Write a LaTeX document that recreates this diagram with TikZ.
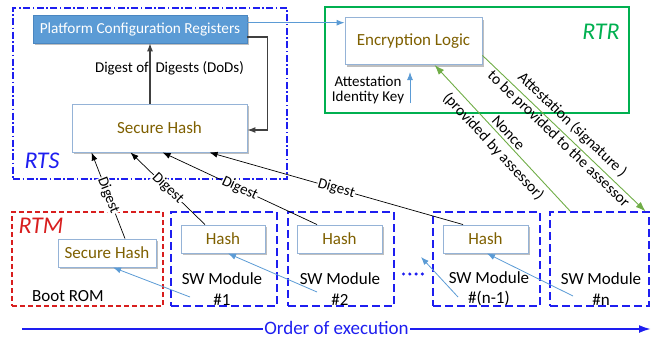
\documentclass[tikz,border=0pt]{standalone}
\usepackage{fontspec}
\setmainfont{Carlito}
\usetikzlibrary{arrows.meta,shadows,positioning}
\definecolor{pcrblue}{HTML}{5B9BD5}
\definecolor{pcredge}{HTML}{4A86C0}
\definecolor{hedge}{HTML}{95B3D7}
\definecolor{brownt}{HTML}{7F6000}
\definecolor{rtsblue}{HTML}{1E1EF0}
\definecolor{rtrgreen}{HTML}{00B050}
\definecolor{arrgreen}{HTML}{70AD47}
\definecolor{rtmred}{HTML}{D81E1E}
\definecolor{thinblue}{HTML}{5B9BD5}
\tikzset{
  hbox/.style={draw=hedge, line width=0.9pt, fill=white, text=brownt, inner sep=0pt,
    drop shadow={shadow xshift=2pt, shadow yshift=-2pt, opacity=0.25, fill=black}},
  pcrbox/.style={draw=pcredge, line width=0.6pt, fill=pcrblue, text=white, inner sep=0pt,
    font=\fontsize{15.3}{18}\selectfont,
    drop shadow={shadow xshift=2pt, shadow yshift=-2pt, opacity=0.25, fill=black}},
  modbox/.style={draw=rtsblue, line width=1.2pt, dash pattern=on 8pt off 4pt, inner sep=0pt},
  rtmbox/.style={draw=rtmred, line width=1.2pt, dash pattern=on 5pt off 3pt, inner sep=0pt},
  rtsbox/.style={draw=rtsblue, line width=1.2pt, dash pattern=on 7pt off 2.5pt on 1.5pt off 2.5pt, inner sep=0pt},
  rtrbox/.style={draw=rtrgreen, line width=1.3pt, inner sep=0pt},
  bigital/.style={font=\fontsize{24}{28}\selectfont\itshape, inner sep=0pt},
  modtext/.style={font=\fontsize{17}{20.5}\selectfont, align=center, inner sep=0pt},
  dig/.style={black, line width=0.7pt, -{Latex[length=8pt,width=6pt]}},
  diglab/.style={font=\fontsize{15}{18}\selectfont, fill=white, inner sep=0.5pt, sloped, midway},
  thin arrow/.style={thinblue, line width=0.8pt, -{Latex[length=8pt,width=6pt]}},
  grn/.style={arrgreen, line width=0.9pt},
  grnlab/.style={font=\fontsize{15.5}{20}\selectfont, text=black, align=center, sloped, midway, inner sep=0pt},
  gray arrow/.style={black!75, line width=1.3pt, -{Latex[length=8pt,width=6pt]}},
}
\begin{document}
\begin{tikzpicture}[x=1pt,y=-1pt]
\useasboundingbox (0,0) rectangle (654,338);
% containers
\node[rtsbox, minimum width=274pt, minimum height=171pt] (rts) at (150,93.5) {};
\node[rtrbox, minimum width=304pt, minimum height=106pt] (rtr) at (477,60) {};
\node[rtmbox, minimum width=151pt, minimum height=94pt] (rtm) at (87.5,259) {};
\node[modbox, minimum width=106pt, minimum height=94pt] (m1) at (224,259) {};
\node[modbox, minimum width=106pt, minimum height=94pt] (m2) at (341,259) {};
\node[modbox, minimum width=107pt, minimum height=94pt] (mn1) at (486.5,259) {};
\node[modbox, minimum width=99pt, minimum height=94pt] (mn) at (599.5,259) {};
% container labels
\node[bigital, text=rtsblue] (rtsl) at (42,161) {RTS};
\node[bigital, text=rtrgreen] (rtrl) at (601,32) {RTR};
\node[bigital, text=rtmred] (rtml) at (41,226) {RTM};
% inner boxes
\node[pcrbox, minimum width=214pt, minimum height=28pt] (pcr) at (140,29) {Platform Configuration Registers};
\node[hbox, minimum width=175pt, minimum height=48pt, font=\fontsize{17}{20}\selectfont] (sh) at (159.5,128) {Secure Hash};
\node[hbox, minimum width=137pt, minimum height=47pt, font=\fontsize{17}{20}\selectfont] (enc) at (413.5,41) {Encryption Logic};
\node[hbox, minimum width=98pt, minimum height=28pt, font=\fontsize{17}{20}\selectfont] (rh) at (107,253) {Secure Hash};
\node[hbox, minimum width=84pt, minimum height=28pt, font=\fontsize{17}{20}\selectfont] (h1) at (223,239) {Hash};
\node[hbox, minimum width=85pt, minimum height=28pt, font=\fontsize{17}{20}\selectfont] (h2) at (339.5,239) {Hash};
\node[hbox, minimum width=85pt, minimum height=28pt, font=\fontsize{17}{20}\selectfont] (hn1) at (485.5,239) {Hash};
% texts
\node[modtext] (t1) at (222,289) {SW Module\\\#1};
\node[modtext] (t2) at (340,289) {SW Module\\\#2};
\node[modtext] (tn1) at (489,289) {SW Module\\\#(n-1)};
\node[modtext] (tn) at (601,289) {SW Module\\\#n};
\node[modtext] (boot) at (68,296) {Boot ROM};
\node[font=\fontsize{15}{15.5}\selectfont, align=center, inner sep=0pt] (aik) at (368,90) {Attestation\\Identity Key};
% dots
\foreach \xx in {403.5,409.8,416.1,422.4} \fill[rtsblue] (\xx,274) circle (1.7);
% DoD arrow
\coordinate (dodS) at ([xshift=-9.5pt]sh.north);
\draw[gray arrow] (dodS) -- (dodS |- pcr.south);
\node[font=\fontsize{15}{18}\selectfont, inner sep=0pt] (dodl) at (169.5,68) {Digest of\ \ Digests (DoDs)};
% feedback
\draw[gray arrow, line width=1.1pt] ([yshift=-8pt]pcr.east) -- ++(20,0) |- ([yshift=-2pt]sh.east);
% pcr -> enc
\coordinate (pe) at ([yshift=6.3pt]pcr.east);
\draw[thin arrow, line width=0.9pt] (pe) -- (pe -| enc.west);
% AIK arrow
\coordinate (aikS) at (410,103);
\coordinate (aikE) at (410,72);
\draw[thin arrow, line width=1pt] (aikS) -- (aikE);
% digests
\draw[dig] ([xshift=18pt]rh.north) -- node[diglab] {Digest} ([xshift=20pt]sh.south west);
\draw[dig] ([xshift=-18pt]h1.north) -- node[diglab] {Digest} ([xshift=59pt]sh.south west);
\draw[dig] ([xshift=-22.5pt]h2.north) -- node[diglab] {Digest} ([xshift=91pt]sh.south west);
\draw[dig] ([xshift=-22.5pt]hn1.north) -- node[diglab] {Digest} ([xshift=138pt]sh.south west);
% measurement arrows
\coordinate (a1) at (190,297);
\coordinate (a2) at (317,292);
\coordinate (a3) at (458,297);
\coordinate (a3e) at (421,257);
\coordinate (a4) at (573,296);
\draw[thin arrow] (a1) -- ([xshift=6pt]rh.south);
\draw[thin arrow] (a2) -- ([xshift=5pt]h1.south);
\draw[thin arrow] (a3) -- (a3e);
\draw[thin arrow] (a4) -- ([xshift=1.5pt]hn1.south);
% green arrows
\draw[grn, -{Latex[length=10pt,width=7pt]}] ([xshift=21pt]mn.north west) -- node[grnlab, yshift=-3pt] {Nonce\\(provided by assessor)} ([xshift=90pt]enc.south west);
\draw[grn, -{Latex[length=10pt,width=7pt]}] ([yshift=9.5pt]enc.south east) -- node[grnlab, yshift=2pt] {Attestation (signature )\\to be provided to the assessor} ([xshift=-4pt]mn.north east);
% order of execution
\coordinate (o1) at (22,329);
\coordinate (o2) at (651,329);
\draw[rtsblue, line width=2pt, -{Latex[length=12pt,width=8pt]}] (o1) -- node[fill=white, inner xsep=1pt, inner ysep=0pt, text height=12pt, text depth=2pt, font=\fontsize{19}{22}\selectfont, text=rtsblue] {Order of execution} (o2);
\end{tikzpicture}
\end{document}
